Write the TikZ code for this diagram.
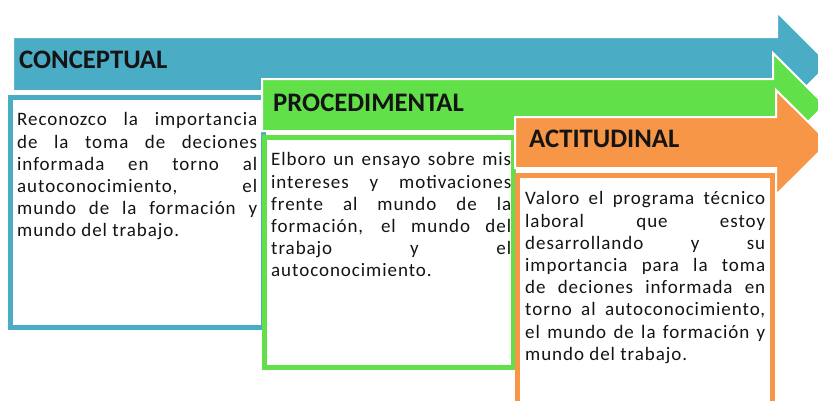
\documentclass[tikz,border=0pt]{standalone}
\usepackage{fontspec}
\setmainfont{Carlito}
\newfontfamily\bodyfont[LetterSpace=5]{Carlito}
\usepackage{xcolor}
\usetikzlibrary{positioning}
\definecolor{cblue}{RGB}{75,172,198}
\definecolor{cgreen}{RGB}{98,224,74}
\definecolor{corange}{RGB}{247,150,70}

\begin{document}
\begin{tikzpicture}[x=1pt,y=-1pt,
  stage arrow/.style={draw=white,line width=2pt,line join=miter},
  stage box/.style={draw,fill=white,line width=5pt},
  stage title/.style={anchor=base west,inner sep=0pt,text=black!92,font=\bfseries\fontsize{26.7}{30}\selectfont},
  stage text/.style={anchor=north west,inner sep=0pt,text width=240pt,align=justify,text=black!92,font=\bodyfont\fontsize{19}{22.2}\selectfont}]
  \useasboundingbox (0,0) rectangle (818,400);
  \clip (0,0) rectangle (818,400);

  % conceptual
  \path[stage arrow,fill=cblue] (13,37) -- (777,37) -- (777,12) -- (829,64) -- (777,116) -- (777,91) -- (13,91) -- cycle;
  \node[stage title] (concep) at (19,68) {CONCEPTUAL};
  \draw[stage box,draw=cblue] (10.5,97.5) rectangle (263.5,327.5);
  \node[stage text] (concep text) at (17,112.5) {Reconozco la importancia\linebreak de la toma de deciones\linebreak informada en torno al\linebreak autoconocimiento, el\linebreak mundo de la formación y\linebreak mundo del trabajo.};

  % procedimental
  \path[stage arrow,fill=cgreen] (262,79) -- (773,79) -- (773,53) -- (825,105) -- (773,157) -- (773,131) -- (262,131) -- cycle;
  \node[stage title] (proced) at (273,111) {PROCEDIMENTAL};
  \draw[stage box,draw=cgreen] (264.5,137.5) rectangle (513.5,367.5);
  \node[stage text] (proced text) at (271,152.5) {Elboro un ensayo sobre mis\linebreak intereses y motivaciones\linebreak frente al mundo de la\linebreak formación, el mundo del\linebreak trabajo y el\linebreak autoconocimiento.};

  % actitudinal
  \path[stage arrow,fill=corange] (515,117) -- (776,117) -- (776,90) -- (829,142.5) -- (776,195) -- (776,168) -- (515,168) -- cycle;
  \node[stage title] (actit) at (529,147) {ACTITUDINAL};
  \draw[stage box,draw=corange] (517.5,175.5) rectangle (772.5,420);
  \node[stage text] (actit text) at (525,191.5) {Valoro el programa técnico\linebreak laboral que estoy\linebreak desarrollando y su\linebreak importancia para la toma\linebreak de deciones informada en\linebreak torno al autoconocimiento,\linebreak el mundo de la formación y\linebreak mundo del trabajo.};
\end{tikzpicture}
\end{document}
